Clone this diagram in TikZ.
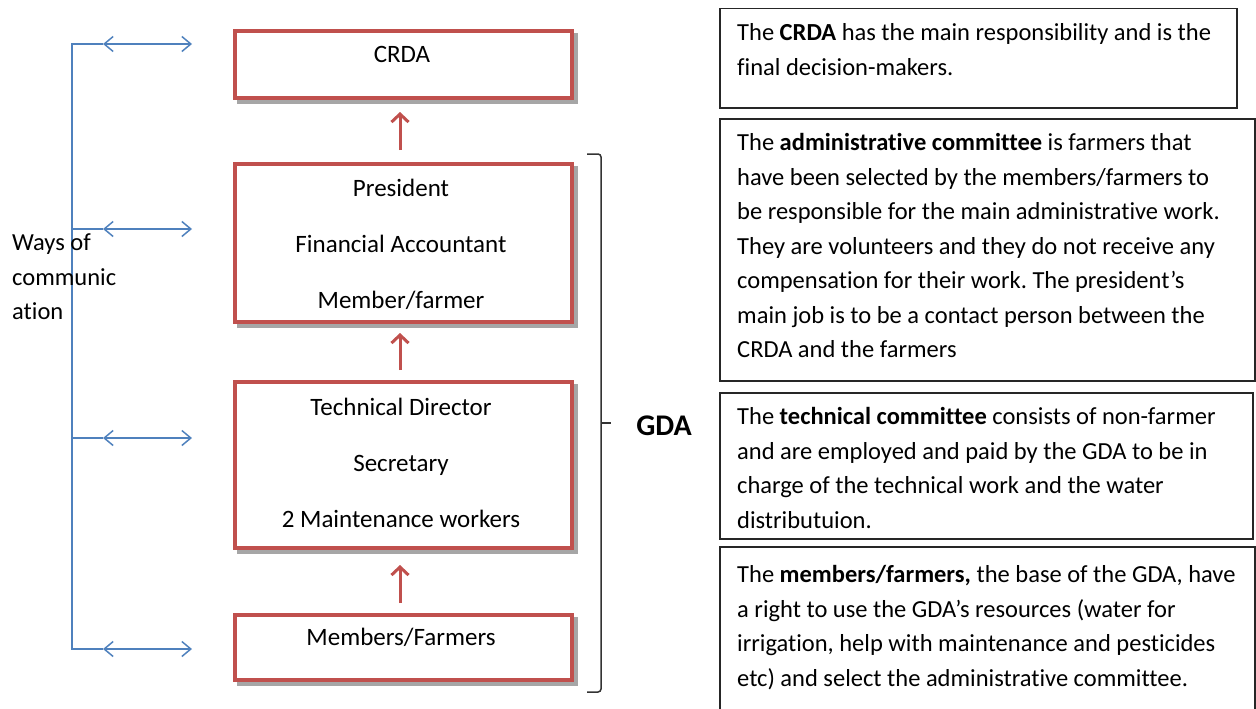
\documentclass[tikz,border=0pt]{standalone}
\usepackage{fontspec}
\setmainfont{Carlito}[Ligatures=NoCommon]
\usetikzlibrary{arrows.meta,positioning}
\frenchspacing

\definecolor{boxred}{HTML}{C0504D}
\definecolor{commblue}{HTML}{4F81BD}
\definecolor{shadowgray}{HTML}{A6A6A6}

\tikzset{
  redbox/.style={draw=boxred, line width=4pt, fill=white, inner sep=0pt, minimum width=337pt,
    preaction={draw=shadowgray, line width=4pt, transform canvas={xshift=4pt,yshift=-4pt}}},
  boxtext/.style={font=\fontsize{25}{56}\selectfont, align=center, inner sep=0pt},
  uparrow/.style={draw=boxred, line width=3pt, -{Straight Barb[length=8pt,width=17pt]}},
  commline/.style={draw=commblue, line width=1.5pt},
  commtip/.style={commline, {Straight Barb[length=9pt,width=15pt]}-{Straight Barb[length=9pt,width=15pt]}},
  descbox/.style={draw=black!85, line width=1.5pt, inner sep=0pt, anchor=north west},
  desctext/.style={font=\fontsize{24.5}{34.5}\selectfont, align=left, inner sep=0pt, anchor=north west},
  brace/.style={draw=black!80, line width=1.5pt, rounded corners=3pt}
}

\begin{document}
\begin{tikzpicture}[x=1pt,y=-1pt]
        \useasboundingbox (0,0) rectangle (1256,709);
        % organisation boxes
        \node[redbox, minimum height=67pt] (crda) at (403.5,64.5){};
        \node[redbox, minimum height=158pt] (board) at (403.5,243){};
        \node[redbox, minimum height=166pt] (techcom) at (403.5,465){};
        \node[redbox, minimum height=65pt] (members) at (403.5,647.5){};
        \node[boxtext] (crdatxt) at (402,54){CRDA};
        \node[boxtext] (boardtxt) at (401,244){President\\Financial Accountant\\Member/farmer};
        \node[boxtext] (techtxt) at (401,463){Technical Director\\Secretary\\2 Maintenance workers};
        \node[boxtext] (memberstxt) at (401,637){Members/Farmers};
        \draw[uparrow, shorten <=12pt, shorten >=12pt] ([xshift=-3.5pt]board.north) -- ([xshift=-3.5pt]crda.south);
        \draw[uparrow, shorten <=10pt, shorten >=9pt] ([xshift=-3.5pt]techcom.north) -- ([xshift=-3.5pt]board.south);
        \draw[uparrow, shorten <=10pt, shorten >=15pt] ([xshift=-3.5pt]members.north) -- ([xshift=-3.5pt]techcom.south);
        % ways of communication
        \foreach \row/\y in {1/44,2/229,3/438,4/649}{
            \coordinate (bus\row) at (72,\y);
            \coordinate (tipl\row) at (103,\y);
            \coordinate (tipr\row) at (192,\y);
            \draw[commtip] (tipl\row) -- (tipr\row);
        }
        \draw[commline] (tipl1) -- (bus1) -- (bus4) -- (tipl4);
        \draw[commline] (bus2) -- (tipl2);
        \draw[commline] (bus3) -- (tipl3);
        \node[desctext, anchor=west] (ways) at (12,277){Ways of\\communic\\ation};
        % GDA brace
        \draw[brace] (587,154) -- (601,154) -- (601,692) -- (587,692);
        \draw[brace] (601,423) -- (611,423);
        \node[font=\fontsize{30}{34}\selectfont\bfseries, inner sep=0pt] (gda) at (664,426){GDA};
        % descriptions
        \node[descbox, minimum width=517pt, minimum height=99pt] (descA) at (719,8){};
        \node[descbox, minimum width=535pt, minimum height=262pt] (descB) at (719,118){};
        \node[descbox, minimum width=533pt, minimum height=146pt] (descC) at (719,392){};
        \node[descbox, minimum width=535pt, minimum height=175pt] (descD) at (719,546){};
        \node[desctext, below right=15.5pt and 18pt of descA.north west] (txtA){The \textbf{CRDA} has the main responsibility and is the\\final decision-makers.};
        \node[desctext, below right=15.5pt and 18pt of descB.north west] (txtB){The \textbf{administrative committee} is farmers that\\have been selected by the members/farmers to\\be responsible for the main administrative work.\\They are volunteers and they do not receive any\\compensation for their work. The president’s\\main job is to be a contact person between the\\CRDA and the farmers};
        \node[desctext, below right=15.5pt and 18pt of descC.north west] (txtC){The \textbf{technical committee} consists of non-farmer\\and are employed and paid by the GDA to be in\\charge of the technical work and the water\\distributuion.};
        \node[desctext, below right=19.5pt and 18pt of descD.north west] (txtD){The \textbf{members/farmers,} the base of the GDA, have\\a right to use the GDA’s resources (water for\\irrigation, help with maintenance and pesticides\\etc) and select the administrative committee.};
\end{tikzpicture}
\end{document}
